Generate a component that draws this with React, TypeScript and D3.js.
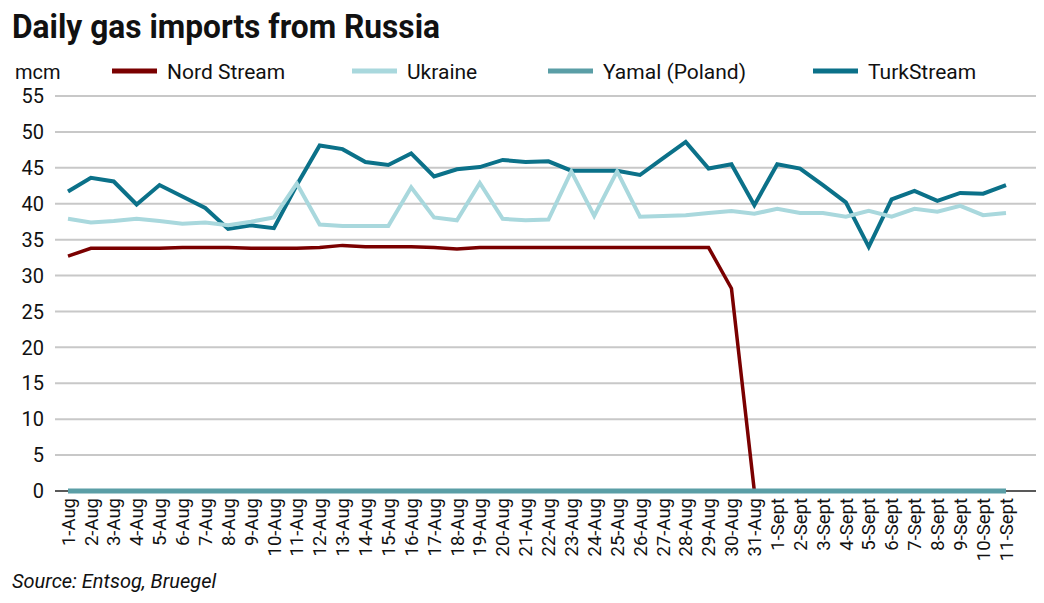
import React from 'react';
import * as d3 from 'd3';

// categories: 1-Aug .. 31-Aug, 1-Sept .. 11-Sept
const days: string[] = [
  '1-Aug', '2-Aug', '3-Aug', '4-Aug', '5-Aug', '6-Aug', '7-Aug', '8-Aug', '9-Aug', '10-Aug',
  '11-Aug', '12-Aug', '13-Aug', '14-Aug', '15-Aug', '16-Aug', '17-Aug', '18-Aug', '19-Aug', '20-Aug',
  '21-Aug', '22-Aug', '23-Aug', '24-Aug', '25-Aug', '26-Aug', '27-Aug', '28-Aug', '29-Aug', '30-Aug',
  '31-Aug', '1-Sept', '2-Sept', '3-Sept', '4-Sept', '5-Sept', '6-Sept', '7-Sept', '8-Sept', '9-Sept',
  '10-Sept', '11-Sept',
];

// mcm per day
const nordStream: (number | null)[] = [
  32.7, 33.8, 33.8, 33.8, 33.8, 33.9, 33.9, 33.9, 33.8, 33.8,
  33.8, 33.9, 34.2, 34.0, 34.0, 34.0, 33.9, 33.7, 33.9, 33.9,
  33.9, 33.9, 33.9, 33.9, 33.9, 33.9, 33.9, 33.9, 33.9, 28.2,
  0, null, null, null, null, null, null, null, null, null,
  null, null,
];
const ukraine: number[] = [
  37.9, 37.4, 37.6, 37.9, 37.6, 37.2, 37.4, 37.0, 37.5, 38.1,
  42.8, 37.1, 36.9, 36.9, 36.9, 42.3, 38.1, 37.7, 42.9, 37.9,
  37.7, 37.8, 44.5, 38.3, 44.5, 38.2, 38.3, 38.4, 38.7, 39.0,
  38.6, 39.3, 38.7, 38.7, 38.2, 39.0, 38.2, 39.3, 38.9, 39.7,
  38.4, 38.7,
];
const yamal: number[] = days.map(() => 0);
const turkStream: number[] = [
  41.7, 43.6, 43.1, 39.9, 42.6, 41.0, 39.4, 36.5, 37.0, 36.6,
  42.6, 48.1, 47.6, 45.8, 45.4, 47.0, 43.8, 44.8, 45.1, 46.1,
  45.8, 45.9, 44.6, 44.6, 44.6, 44.0, 46.3, 48.6, 44.9, 45.5,
  39.8, 45.5, 44.9, 42.6, 40.2, 34.0, 40.6, 41.8, 40.4, 41.5,
  41.4, 42.6,
];
const yTicks: number[] = [0, 5, 10, 15, 20, 25, 30, 35, 40, 45, 50, 55];

const series = [
  { name: 'Nord Stream', color: '#7a0000', width: 3.5, values: nordStream },
  { name: 'Ukraine', color: '#a9d8dd', width: 4, values: ukraine },
  { name: 'Yamal (Poland)', color: '#5a9ea6', width: 5, values: yamal },
  { name: 'TurkStream', color: '#0b7189', width: 4, values: turkStream },
];
// draw order (Ukraine sits on top of TurkStream where they meet)
const drawOrder = [3, 0, 1, 2];
const legendX = [112, 352, 548, 813];

const font = 'Roboto, "DejaVu Sans", sans-serif';

export default function App() {
  const W = 1044;
  const H = 603;
  const gridLeft = 55;
  const gridRight = 1036;

  const x = d3.scalePoint<string>().domain(days).range([68, 1006]);
  const y = d3.scaleLinear().domain([0, 55]).range([491, 96]);

  const line = d3
    .line<number | null>()
    .defined((d) => d !== null)
    .x((_, i) => x(days[i])!)
    .y((d) => y(d as number));

  return (
    <div style={{ position: 'absolute', left: 0, top: 0 }}>
      <svg width={W} height={H} style={{ display: 'block', background: '#fff' }} fontFamily={font}>
        <text x={12} y={38} fontSize={33} fontWeight="bold" fill="#111" textLength={428} lengthAdjust="spacingAndGlyphs">
          Daily gas imports from Russia
        </text>

        <text x={15} y={79} fontSize={20} fill="#111">mcm</text>

        {series.map((s, i) => (
          <g key={s.name}>
            <line x1={legendX[i]} x2={legendX[i] + 45} y1={71} y2={71} stroke={s.color} strokeWidth={5} />
            <text x={legendX[i] + 55} y={79} fontSize={21} fill="#111">{s.name}</text>
          </g>
        ))}

        {yTicks.map((t) => (
          <g key={t}>
            <line
              x1={gridLeft}
              x2={gridRight}
              y1={y(t)}
              y2={y(t)}
              stroke={t === 0 ? '#595959' : '#c8c8c8'}
              strokeWidth={2}
            />
            <text x={44} y={y(t)} dy="0.36em" textAnchor="end" fontSize={20} fill="#111">{t}</text>
          </g>
        ))}

        {days.map((d) => (
          <text
            key={d}
            transform={`translate(${x(d)},498) rotate(-90)`}
            dy="0.36em"
            textAnchor="end"
            fontSize={18.5}
            fill="#111"
          >
            {d}
          </text>
        ))}

        {drawOrder.map((i) => {
          const s = series[i];
          return (
            <path
              key={s.name}
              d={line(s.values) || ''}
              fill="none"
              stroke={s.color}
              strokeWidth={s.width}
              strokeLinejoin="miter"
            />
          );
        })}

        <text x={12} y={588} fontSize={20} fontStyle="italic" fill="#111">Source: Entsog, Bruegel</text>
      </svg>
    </div>
  );
}
